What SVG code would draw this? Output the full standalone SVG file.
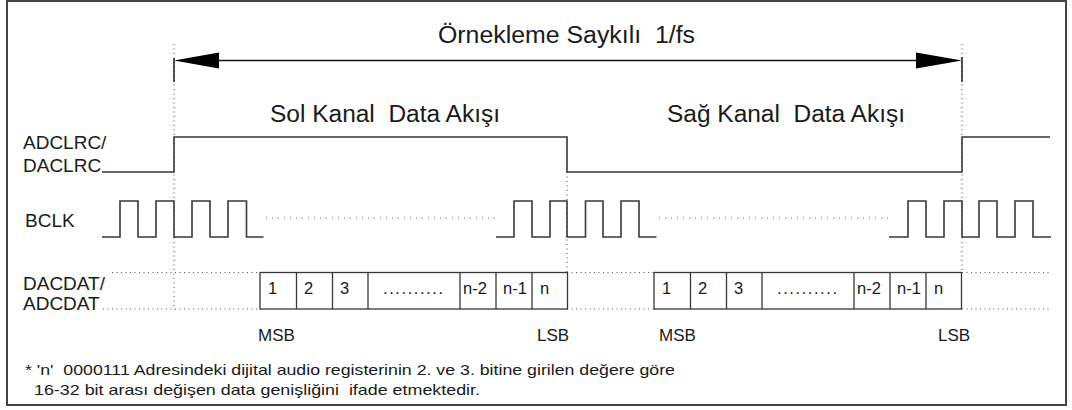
<svg xmlns="http://www.w3.org/2000/svg" width="1072" height="410" viewBox="0 0 1072 410">
  <style>
    text { font-family: "Liberation Sans", Arial, sans-serif; fill: #1a1a1a; white-space: pre; }
    .big { font-size: 23px; }
    .lbl { font-size: 19px; }
    .bit { font-size: 16.5px; }
    .mark { font-size: 17px; }
    .note { font-size: 15px; }
    .sig { fill: none; stroke: #383838; stroke-width: 1.6; }
    .box { fill: none; stroke: #383838; stroke-width: 1.3; }
    .dot { fill: none; stroke: #555; stroke-width: 1.1; stroke-dasharray: 1 3.5; }
    .dotw { fill: none; stroke: #666; stroke-width: 1.1; stroke-dasharray: 1 5; }
    .tick { stroke: #111; stroke-width: 1.4; }
  </style>

  <!-- outer frame -->
  <rect x="7" y="1" width="1059" height="404" fill="#fff" stroke="#444" stroke-width="2"/>

  <!-- timing guides -->
  <g id="guides">
    <line class="dot" x1="174" y1="44" x2="174" y2="310"/>
    <line class="dot" x1="962" y1="44" x2="962" y2="272"/>
    <line class="dot" x1="567" y1="172" x2="567" y2="272"/>
    <!-- data bus idle dotted edges -->
    <line class="dot" x1="112" y1="272.5" x2="260" y2="272.5"/>
    <line class="dot" x1="103" y1="309" x2="260" y2="309"/>
    <line class="dot" x1="567" y1="272.5" x2="654" y2="272.5"/>
    <line class="dot" x1="567" y1="309" x2="654" y2="309"/>
    <line class="dot" x1="962" y1="272.5" x2="1052" y2="272.5"/>
    <line class="dot" x1="962" y1="309" x2="1052" y2="309"/>
    <!-- clock continuation -->
    <line class="dotw" x1="266" y1="218" x2="496" y2="218"/>
    <line class="dotw" x1="659" y1="218" x2="889" y2="218"/>
  </g>

  <!-- sample period arrow -->
  <g id="connectors">
    <line x1="215" y1="60.5" x2="920" y2="60.5" stroke="#111" stroke-width="1.4"/>
    <polygon points="174,60.5 219,52.5 219,68.5" fill="#000"/>
    <polygon points="962,60.5 916,52.5 916,68.5" fill="#000"/>
    <line class="tick" x1="174" y1="58" x2="174" y2="82"/>
    <line class="tick" x1="962" y1="57" x2="962" y2="82"/>
  </g>

  <g id="title">
    <text class="big" x="438" y="43" xml:space="preserve" textLength="257" lengthAdjust="spacingAndGlyphs">Örnekleme Saykılı  1/fs</text>
  </g>

  <g id="channel-labels">
    <text class="big" x="270" y="122" xml:space="preserve" textLength="230" lengthAdjust="spacingAndGlyphs">Sol Kanal  Data Akışı</text>
    <text class="big" x="667" y="122" xml:space="preserve" textLength="238" lengthAdjust="spacingAndGlyphs">Sağ Kanal  Data Akışı</text>
  </g>

  <!-- LR clock -->
  <g id="lrclk">
    <text class="lbl" x="23" y="149">ADCLRC/</text>
    <text class="lbl" x="23" y="172">DACLRC</text>
    <path class="sig" d="M102,172 H174 V137 H567 V172 H962 V137 H1050"/>
  </g>

  <!-- bit clock -->
  <g id="bclk">
    <text class="lbl" x="25" y="226.5">BCLK</text>
    <path class="sig" d="M102,237 H120 V201 H138 V237 H156 V201 H174 V237 H192 V201 H210 V237 H228 V201 H246.5 V237 H263.5"/>
    <path class="sig" d="M496,237 H514 V201 H532 V237 H550 V201 H567 V237 H585.5 V201 H603 V237 H621 V201 H639 V237 H656.5"/>
    <path class="sig" d="M889,237 H908 V201 H926 V237 H944 V201 H962 V237 H979 V201 H997 V237 H1015 V201 H1033 V237 H1051"/>
  </g>

  <!-- serial data -->
  <g id="data-label">
    <text class="lbl" x="23" y="290">DACDAT/</text>
    <text class="lbl" x="23" y="310">ADCDAT</text>
  </g>

  <g id="data-left">
    <rect class="box" x="260" y="272.5" width="307.5" height="36.5"/>
    <path class="box" d="M296.5,272.5 V309 M332.5,272.5 V309 M368,272.5 V309 M460,272.5 V309 M496,272.5 V309 M532,272.5 V309"/>
    <text class="bit" x="268" y="294">1</text>
    <text class="bit" x="304" y="294">2</text>
    <text class="bit" x="340" y="294">3</text>
    <text class="bit" x="383" y="294" textLength="60" lengthAdjust="spacing">..........</text>
    <text class="bit" x="463" y="294">n-2</text>
    <text class="bit" x="503" y="294">n-1</text>
    <text class="bit" x="540" y="294">n</text>
    <text class="mark" x="258" y="341">MSB</text>
    <text class="mark" x="537" y="341">LSB</text>
  </g>

  <g id="data-right" transform="translate(394,0)">
    <rect class="box" x="260" y="272.5" width="307.5" height="36.5"/>
    <path class="box" d="M296.5,272.5 V309 M332.5,272.5 V309 M368,272.5 V309 M460,272.5 V309 M496,272.5 V309 M532,272.5 V309"/>
    <text class="bit" x="268" y="294">1</text>
    <text class="bit" x="304" y="294">2</text>
    <text class="bit" x="340" y="294">3</text>
    <text class="bit" x="383" y="294" textLength="60" lengthAdjust="spacing">..........</text>
    <text class="bit" x="463" y="294">n-2</text>
    <text class="bit" x="503" y="294">n-1</text>
    <text class="bit" x="540" y="294">n</text>
    <text class="mark" x="265" y="341">MSB</text>
    <text class="mark" x="544" y="341">LSB</text>
  </g>

  <g id="footnote">
    <text class="note" x="25" y="375" xml:space="preserve" textLength="650" lengthAdjust="spacingAndGlyphs">* 'n'  0000111 Adresindeki dijital audio registerinin 2. ve 3. bitine girilen değere göre</text>
    <text class="note" x="34" y="395" xml:space="preserve" textLength="446" lengthAdjust="spacingAndGlyphs">16-32 bit arası değişen data genişliğini  ifade etmektedir.</text>
  </g>
</svg>
